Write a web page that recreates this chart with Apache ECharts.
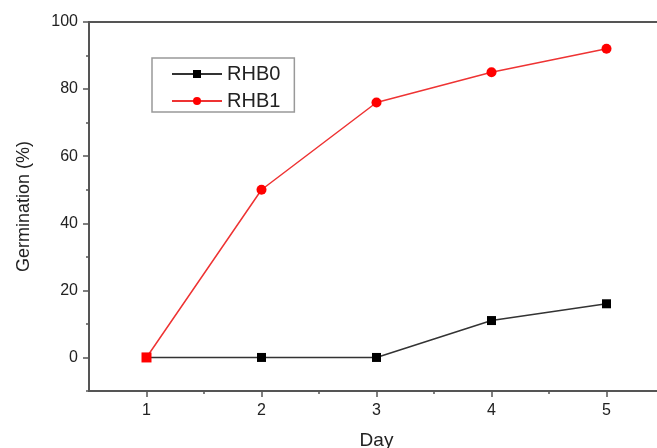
<!DOCTYPE html>
<html>
<head>
<meta charset="utf-8">
<script src="https://cdn.jsdelivr.net/npm/echarts@6/dist/echarts.min.js"></script>
<style>
  html, body { margin: 0; padding: 0; background: #fff; }
  #chart { width: 657px; height: 448px; }
</style>
</head>
<body>
<div id="chart"></div>
<script>
// data
const days = [1, 2, 3, 4, 5];
const rhb0 = [0, 0, 0, 11, 16];
const rhb1 = [0, 50, 76, 85, 92];

// tick positions
const xMajorTicks = [1, 2, 3, 4, 5];
const xMinorTicks = [1.5, 2.5, 3.5, 4.5];
const yMajorTicks = [0, 20, 40, 60, 80, 100];
const yMinorTicks = [-10, 10, 30, 50, 70, 90];

const axisColor = '#555';
const font = 'Liberation Sans, Arial, sans-serif';

function pairs(xs, ys) {
    return xs.map((x, i) => [x, ys[i]]);
}

const chart = echarts.init(document.getElementById('chart'));

const option = {
    animation: false,
    textStyle: { fontFamily: font },
    grid: {
        left: 89, top: 22, width: 575, height: 369,
        outerBoundsMode: 'none',
        containLabel: false,
        show: true, borderColor: axisColor, borderWidth: 2,
        backgroundColor: 'transparent'
    },
    legend: {
        orient: 'vertical',
        left: 152, top: 58,
        padding: [6, 14, 1, 19],
        itemGap: 7,
        itemWidth: 50, itemHeight: 10,
        borderColor: '#999', borderWidth: 1.5,
        textStyle: { fontSize: 20, color: '#222', fontFamily: font },
        data: ['RHB0', 'RHB1']
    },
    xAxis: [{
        type: 'value', min: 0.5, max: 5.5,
        position: 'bottom',
        name: 'Day', nameLocation: 'middle', nameGap: 40,
        nameTextStyle: { fontSize: 19, color: '#222' },
        axisLine: { onZero: false, lineStyle: { color: axisColor, width: 2 } },
        axisTick: { customValues: xMajorTicks, length: 6, lineStyle: { color: axisColor, width: 1.5 } },
        axisLabel: { customValues: xMajorTicks, fontSize: 16, color: '#222', margin: 12 },
        splitLine: { show: false }
    }, {
        type: 'value', min: 0.5, max: 5.5,
        position: 'bottom',
        axisLine: { show: false, onZero: false },
        axisTick: { customValues: xMinorTicks, length: 3, lineStyle: { color: axisColor, width: 1.5 } },
        axisLabel: { show: false },
        splitLine: { show: false }
    }],
    yAxis: [{
        type: 'value', min: -10, max: 100,
        name: 'Germination (%)', nameLocation: 'middle', nameGap: 56,
        nameTextStyle: { fontSize: 18, color: '#222' },
        axisLine: { show: true, onZero: false, lineStyle: { color: axisColor, width: 2 } },
        axisTick: { show: true, customValues: yMajorTicks, length: 6, lineStyle: { color: axisColor, width: 1.5 } },
        axisLabel: { customValues: yMajorTicks, fontSize: 16, color: '#222', margin: 11 },
        splitLine: { show: false }
    }, {
        type: 'value', min: -10, max: 100,
        position: 'left',
        axisLine: { show: false, onZero: false },
        axisTick: { show: true, customValues: yMinorTicks, length: 3, lineStyle: { color: axisColor, width: 1.5 } },
        axisLabel: { show: false },
        splitLine: { show: false }
    }],
    series: [{
        name: 'RHB0', type: 'line',
        data: pairs(days, rhb0),
        symbol: 'rect', symbolSize: 9,
        itemStyle: { color: '#000' },
        lineStyle: { color: '#333', width: 1.5 }
    }, {
        name: 'RHB1', type: 'line',
        data: pairs(days, rhb1).map((p, i) => i === 0 ? { value: p, symbol: 'rect' } : p),
        symbol: 'circle', symbolSize: 10,
        itemStyle: { color: '#f00' },
        lineStyle: { color: '#e33', width: 1.5 }
    }]
};

chart.setOption(option);
</script>
</body>
</html>
